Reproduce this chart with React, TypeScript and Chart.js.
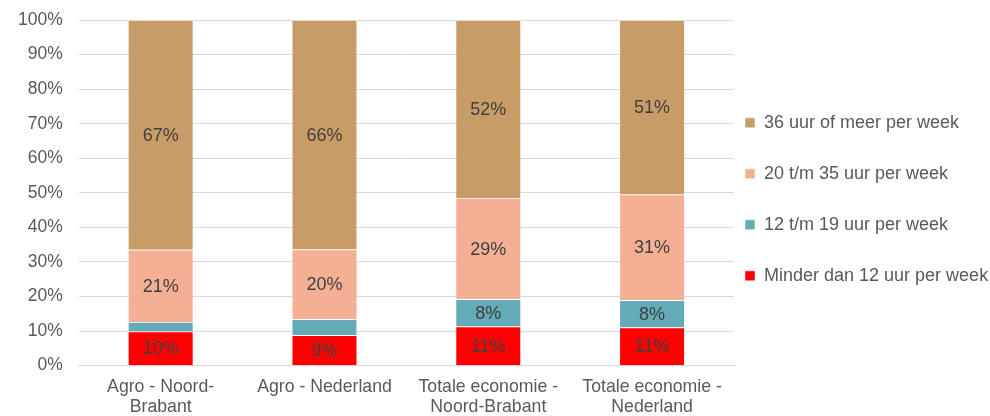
import React, { useEffect, useRef } from 'react';
import { Chart, registerables } from 'chart.js';

Chart.register(...registerables);

const categories: (string | string[])[] = [
  ['Agro - Noord-', 'Brabant'],
  'Agro - Nederland',
  ['Totale economie -', 'Noord-Brabant'],
  ['Totale economie -', 'Nederland'],
];
const seriesNames = [
  'Minder dan 12 uur per week',
  '12 t/m 19 uur per week',
  '20 t/m 35 uur per week',
  '36 uur of meer per week',
];
const minder12 = [9.9, 8.8, 11.3, 11.0];
const uur12tm19 = [2.7, 4.6, 7.9, 7.9];
const uur20tm35 = [20.9, 20.2, 29.3, 30.6];
const uur36plus = [66.5, 66.4, 51.5, 50.5];
const seriesColors = ['#FF0000', '#63ABB6', '#F5AF94', '#C79C67'];
const yMax = 100;
const yStep = 10;

const FONT = '"Liberation Sans", Arial, sans-serif';

const dataLabels = {
  id: 'dataLabels',
  afterDatasetsDraw(chart: any) {
    const ctx = chart.ctx;
    ctx.save();
    ctx.font = `18px ${FONT}`;
    ctx.fillStyle = '#404040';
    ctx.textAlign = 'center';
    ctx.textBaseline = 'middle';
    chart.data.datasets.forEach((ds: any, di: number) => {
      const meta = chart.getDatasetMeta(di);
      meta.data.forEach((el: any, i: number) => {
        const v = ds.data[i];
        if (v < 5) return;
        const p = el.getProps(['x', 'y', 'base'], true);
        ctx.fillText(Math.round(v) + '%', p.x, (p.y + p.base) / 2 + 1);
      });
    });
    ctx.restore();
  },
};

const legendShift = {
  id: 'legendShift',
  afterLayout(chart: any) {
    const lg = chart.legend;
    if (!lg) return;
    lg.left -= 22;
    lg.top += 6.5;
    lg.bottom += 6.5;
  },
};

export default function App() {
  const ref = useRef<HTMLCanvasElement>(null);
  useEffect(() => {
    if (!ref.current) return;
    const datasets = [minder12, uur12tm19, uur20tm35, uur36plus].map((d, i) => ({
      label: seriesNames[i],
      data: d,
      backgroundColor: seriesColors[i],
      borderColor: 'rgba(255,255,255,0.7)',
      borderWidth: 0.75,
      barPercentage: 0.4,
      categoryPercentage: 1,
    }));
    const chart = new Chart(ref.current, {
      type: 'bar',
      data: { labels: categories, datasets },
      plugins: [dataLabels, legendShift],
      options: {
        animation: false,
        responsive: true,
        maintainAspectRatio: false,
        layout: { padding: { top: 20, left: 2, right: 0, bottom: -12 } },
        plugins: {
          tooltip: { enabled: false },
          legend: {
            position: 'right',
            reverse: true,
            fullSize: false,
            maxWidth: 256,
            labels: {
              boxWidth: 10,
              boxHeight: 10,
              padding: 33,
              color: '#595959',
              font: { family: FONT, size: 18 },
            },
          },
        },
        scales: {
          x: {
            stacked: true,
            grid: { display: false, drawTicks: false },
            border: { display: true, color: '#D9D9D9', width: 1 },
            ticks: {
              color: '#595959',
              padding: 11,
              maxRotation: 0,
              autoSkip: false,
              font: { family: FONT, size: 17.7, lineHeight: 1.14 },
            },
          },
          y: {
            stacked: true,
            min: 0,
            max: yMax,
            afterFit: (scale: any) => {
              scale.paddingTop = 0;
              scale.paddingBottom = 0;
            },
            grid: { color: '#D9D9D9', lineWidth: 1, drawTicks: false },
            border: { display: false },
            ticks: {
              stepSize: yStep,
              padding: 16,
              color: '#595959',
              font: { family: FONT, size: 17.5 },
              callback: (v: any) => v + '%',
            },
          },
        },
      },
    });
    return () => chart.destroy();
  }, []);
  return (
    <div style={{ position: 'fixed', left: 0, top: 0, width: 990, height: 416, background: '#fff' }}>
      <canvas ref={ref} />
    </div>
  );
}
